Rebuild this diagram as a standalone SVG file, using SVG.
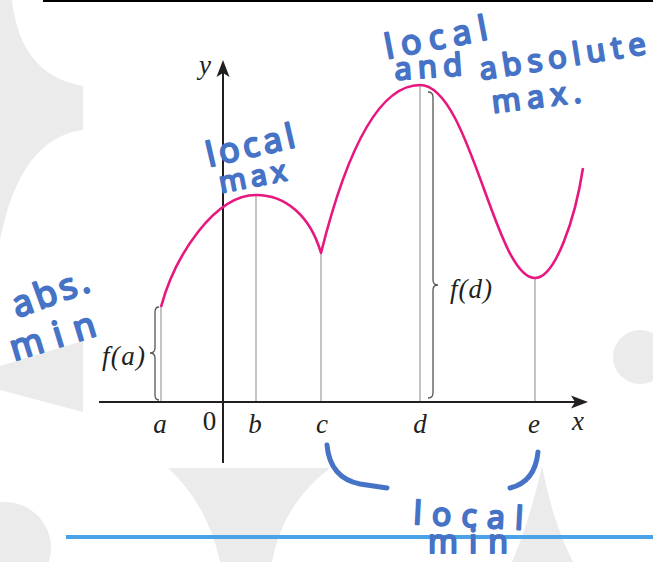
<svg xmlns="http://www.w3.org/2000/svg" width="653" height="562" viewBox="0 0 653 562">
<defs>
<style>
.wm{fill:#ebebeb;stroke:none}
.ax{stroke:#231f20;stroke-width:2;fill:none}
.ah{fill:#231f20;stroke:none}
.gl{stroke:#b5b5b5;stroke-width:1.6;fill:none}
.br{stroke:#555;stroke-width:1.3;fill:none}
.crv{stroke:#e8177f;stroke-width:2.6;fill:none;stroke-linejoin:round}
.lbl{font-family:"Liberation Serif",serif;font-style:italic;font-size:27px;fill:#231f20}
.num{font-family:"Liberation Serif",serif;font-size:27px;fill:#231f20}
.hw{font-family:"Noto Sans",sans-serif;fill:#4673c5;stroke:#4673c5;stroke-width:2;stroke-linejoin:round}
.hb{stroke:#4673c5;stroke-width:5;fill:none;stroke-linecap:round}
</style>
</defs>
<rect width="653" height="562" fill="#ffffff"/>
<g id="watermark">
<path class="wm" d="M0,0 L12,0 Q20,75 83,86 L83,130 Q20,138 0,240 Z"/>
<path class="wm" d="M0,366 L83,341 L83,412 L0,390 Z"/>
<circle class="wm" cx="5" cy="548" r="46"/>
<path class="wm" d="M168,468 L330,468 Q282,505 272,562 L220,562 Q208,505 168,468 Z"/>
<path class="wm" d="M542,466 Q530,520 512,562 L573,562 Q552,520 542,466 Z"/>
<circle class="wm" cx="640" cy="357" r="27"/>
</g>
<g id="frame">
<line x1="43" y1="1" x2="653" y2="1" stroke="#000" stroke-width="2.2"/>
<line x1="66" y1="537" x2="653" y2="537" stroke="#4aa3e8" stroke-width="4"/>
</g>
<g id="connectors">
<line class="gl" x1="161" y1="402" x2="161" y2="307"/>
<line class="gl" x1="256" y1="402" x2="256" y2="195"/>
<line class="gl" x1="321" y1="402" x2="321" y2="253"/>
<line class="gl" x1="420" y1="402" x2="420" y2="85"/>
<line class="gl" x1="535" y1="402" x2="535" y2="278"/>
<path class="br" d="M159,307 Q155,307 155,312 L155,348 Q155,353 150,353 Q155,353 155,358 L155,395 Q155,400 159,400"/>
<path class="br" d="M428,92 Q433,92 433,97 L433,280 Q433,285 438,285 Q433,285 433,290 L433,393 Q433,398 428,398"/>
</g>
<g id="axes">
<line class="ax" x1="99" y1="402" x2="578" y2="402"/>
<path class="ah" d="M588,402 L571,395.5 L575,402 L571,408.5 Z"/>
<line class="ax" x1="223" y1="463" x2="223" y2="72"/>
<path class="ah" d="M223,60 L216.5,77 L223,73 L229.5,77 Z"/>
<text class="lbl" x="205" y="74" text-anchor="middle">y</text>
<text class="lbl" x="578" y="430" text-anchor="middle">x</text>
<text class="num" x="209.5" y="430" text-anchor="middle">0</text>
</g>
<g id="curve">
<path class="crv" d="M161,307 C175,255 215,195 256,195 C285,195 310,215 321,253 C333,205 365,85 420,85 C470,85 495,278 535,278 C555,278 575,220 583,168"/>
</g>
<g id="tick-labels">
<text class="lbl" x="160" y="433" text-anchor="middle">a</text>
<text class="lbl" x="255" y="433" text-anchor="middle">b</text>
<text class="lbl" x="322" y="433" text-anchor="middle">c</text>
<text class="lbl" x="420" y="433" text-anchor="middle">d</text>
<text class="lbl" x="534" y="433" text-anchor="middle">e</text>
</g>
<g id="fa-label">
<text class="lbl" x="102" y="365" textLength="43" lengthAdjust="spacing">f(a)</text>
</g>
<g id="fd-label">
<text class="lbl" x="450" y="298" textLength="42" lengthAdjust="spacing">f(d)</text>
</g>
<g id="note-abs-max">
<text class="hw" font-size="34" transform="translate(387,59) rotate(-11)" textLength="104" lengthAdjust="spacing">local</text>
<text class="hw" font-size="31" transform="translate(395,80) rotate(-4)" textLength="68" lengthAdjust="spacing">and</text>
<text class="hw" font-size="31" transform="translate(481,80) rotate(-9)" textLength="168" lengthAdjust="spacing">absolute</text>
<text class="hw" font-size="31" transform="translate(493,113) rotate(-7)" textLength="90" lengthAdjust="spacing">max.</text>
</g>
<g id="note-local-max">
<text class="hw" font-size="34" transform="translate(209,167) rotate(-13)" textLength="90" lengthAdjust="spacing">local</text>
<text class="hw" font-size="29" transform="translate(221,193) rotate(-11)" textLength="68" lengthAdjust="spacing">max</text>
</g>
<g id="note-abs-min">
<text class="hw" font-size="36" transform="translate(17,318) rotate(-20)" textLength="80" lengthAdjust="spacing">abs.</text>
<text class="hw" font-size="36" transform="translate(14,361) rotate(-17)" textLength="88" lengthAdjust="spacing">min</text>
</g>
<g id="note-local-min">
<path class="hb" d="M327,445 Q330,478 360,484 L387,488"/>
<path class="hb" d="M510,488 Q535,482 538,452"/>
<text class="hw" font-size="32" transform="translate(413,524) rotate(3)" textLength="110" lengthAdjust="spacing">local</text>
<text class="hw" font-size="32" transform="translate(428,553)" textLength="80" lengthAdjust="spacing">min</text>
</g>
</svg>
